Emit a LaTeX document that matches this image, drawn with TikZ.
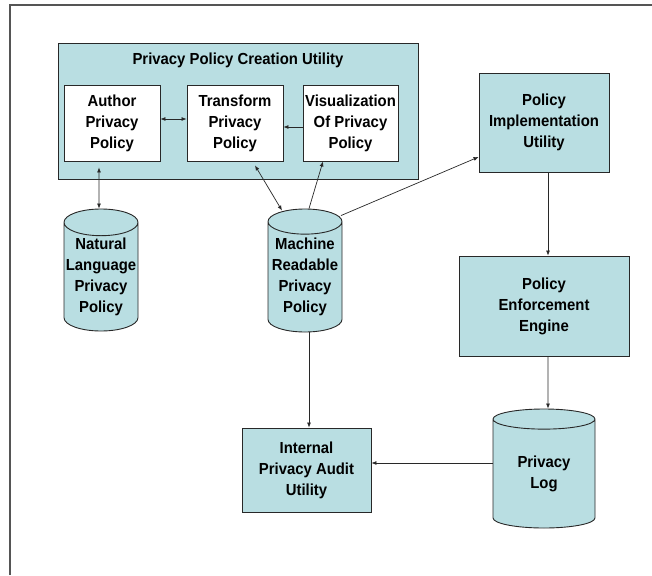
\documentclass[tikz,border=0pt]{standalone}
\usepackage{fontspec}
\setmainfont{Liberation Sans}[FakeStretch=0.93]
\usetikzlibrary{shapes.geometric,arrows.meta,calc}
\definecolor{boxfill}{RGB}{185,222,226}
\definecolor{linec}{RGB}{40,40,40}
\definecolor{framec}{RGB}{85,85,85}
\tikzset{
  box/.style={draw=linec, line width=0.9pt, fill=boxfill, align=center,
    font=\fontsize{16}{21}\selectfont\bfseries, inner sep=0pt},
  wbox/.style={box, fill=white},
  dbase/.style={cylinder, shape border rotate=90, draw=linec, line width=0.9pt,
    fill=boxfill, align=center, font=\fontsize{16}{21}\selectfont\bfseries,
    inner sep=0pt, aspect=0.38},
  conn/.style={draw=linec, line width=0.7pt, -{Latex[length=5pt,width=4pt]}},
  dconn/.style={draw=linec, line width=0.7pt, {Latex[length=5pt,width=4pt]}-{Latex[length=5pt,width=4pt]}},
}
\begin{document}
\begin{tikzpicture}[x=1pt,y=-1pt]
\useasboundingbox (0,0) rectangle (652,575);
\fill[white] (0,0) rectangle (652,575);
\coordinate (ftl) at (10,5);
\coordinate (ftr) at (652,5);
\coordinate (fbl) at (10,575);
\draw[framec, line width=1.6pt] (fbl) -- (ftl) -- (ftr);

% container
\node[box, minimum width=360pt, minimum height=136pt] (cont) at (238,111) {};
\node[font=\fontsize{16}{21}\selectfont\bfseries] (conttitle) at (238,60) {Privacy Policy Creation Utility};
\node[wbox, minimum width=96pt, minimum height=76pt] (author) at (112,123) {Author\\Privacy\\Policy};
\node[wbox, minimum width=96pt, minimum height=76pt] (transform) at (235,123) {Transform\\Privacy\\Policy};
\node[wbox, minimum width=95pt, minimum height=76pt] (vis) at (350.5,123) {Visualization\\Of Privacy\\Policy};

\node[box, minimum width=130pt, minimum height=99pt] (piu) at (544,122.5) {Policy\\Implementation\\Utility};
\node[box, minimum width=170pt, minimum height=100pt] (pee) at (544,306) {Policy\\Enforcement\\Engine};
\node[box, minimum width=129pt, minimum height=84pt] (ipau) at (306.5,470) {Internal\\Privacy Audit\\Utility};

\node[dbase, minimum width=74pt, minimum height=122pt, anchor=shape center] (nl) at (101,270) {Natural\\Language\\Privacy\\Policy};
\node[dbase, minimum width=74pt, minimum height=123pt, anchor=shape center] (mr) at (305,270.5) {Machine\\Readable\\Privacy\\Policy};
\node[dbase, minimum width=102pt, minimum height=119pt, anchor=shape center] (pl) at (544,468.5) {Privacy\\Log};

% connectors
\coordinate (ipin) at ([yshift=7pt]ipau.east);
\draw[dconn] ([xshift=-13pt,yshift=-6pt]author.south) -- ([xshift=-2pt]nl.north);
\draw[dconn] ([yshift=4pt]author.east) -- ([yshift=4pt]transform.west);
\draw[conn] ([yshift=-4pt]vis.west) -- ([yshift=-4pt]transform.east);
\draw[dconn] ([xshift=20pt,yshift=-4pt]transform.south) -- ([xshift=-23pt,yshift=-2pt]mr.north);
\draw[conn] ([xshift=4pt]mr.north) -- ([xshift=-27.5pt]vis.south);
\draw[conn] ([xshift=36pt,yshift=-7pt]mr.north) -- ([yshift=-34.5pt]piu.west);
\draw[conn] ([xshift=4pt]piu.south) -- ([xshift=4pt]pee.north);
\draw[conn] ([xshift=4pt]pee.south) -- ([xshift=4pt]pl.north);
\draw[conn] ([xshift=4pt]mr.south) -- ([xshift=2.5pt]ipau.north);
\draw[conn] (ipin -| pl.west) -- (ipin);
\end{tikzpicture}
\end{document}
